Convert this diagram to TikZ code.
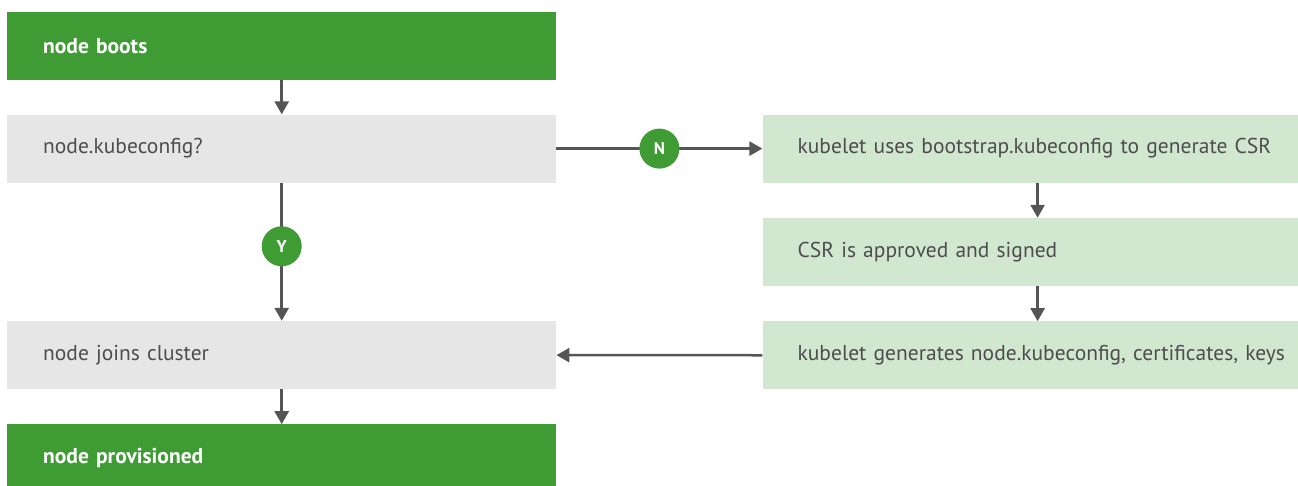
\documentclass[tikz,border=0pt]{standalone}
\usepackage{fontspec}
\setmainfont{PT Sans}
\usetikzlibrary{arrows.meta}
\usetikzlibrary{positioning}

\definecolor{darkgreen}{HTML}{3F9C35}
\definecolor{lightgreen}{HTML}{D1E7CF}
\definecolor{lightgray}{HTML}{E6E6E6}
\definecolor{arrowgray}{HTML}{555555}
\definecolor{textgray}{HTML}{4D4D4D}

\tikzset{
  box/.style={minimum width=549pt,minimum height=68pt,text width=477pt,
    inner xsep=36pt,inner ysep=0pt,align=left,font=\fontsize{21.5}{24}\selectfont},
  endbox/.style={box,fill=darkgreen,text=white,font=\fontsize{21.5}{24}\selectfont\bfseries},
  askbox/.style={box,fill=lightgray,text=textgray},
  kubebox/.style={box,text width=530pt,inner xsep=35pt,fill=lightgreen,text=textgray},
  answer/.style={circle,fill=darkgreen,text=white,minimum size=40pt,inner sep=0pt,
    font=\fontsize{17}{20}\selectfont\bfseries},
  flow/.style={draw=arrowgray,line width=2.5pt,-{Triangle[length=13pt,width=14pt]}}
}

\begin{document}
\begin{tikzpicture}[x=1pt,y=-1pt]
\useasboundingbox (0,0) rectangle (1298,485);
\clip (0,0) rectangle (1298,485);

\node[endbox,anchor=north west] (boots) at (7,12) {node boots};
\node[askbox,below=34pt of boots] (kc) {node.kubeconfig?};
\node[askbox,below=138pt of kc] (joins) {node joins cluster};
\node[endbox,below=35pt of joins] (prov) {node provisioned};
\node[kubebox,anchor=west] (csrgen) at ([xshift=206pt]kc.east) {kubelet uses bootstrap.kubeconfig to generate CSR};
\node[kubebox,below=35pt of csrgen] (signed) {CSR is approved and signed};
\node[kubebox,below=35pt of signed] (gen) {kubelet generates node.kubeconfig, certificates, keys};

\draw[flow](boots)--(kc);
\draw[flow](kc)--node[answer]{N}(csrgen);
\draw[flow](kc)--node[answer,pos=0.46]{Y}(joins);
\draw[flow]([xshift=-25pt]csrgen.south)--([xshift=-25pt]signed.north);
\draw[flow]([xshift=-25pt]signed.south)--([xshift=-25pt]gen.north);
\draw[flow](gen)--(joins);
\draw[flow](joins)--(prov);
\end{tikzpicture}
\end{document}
